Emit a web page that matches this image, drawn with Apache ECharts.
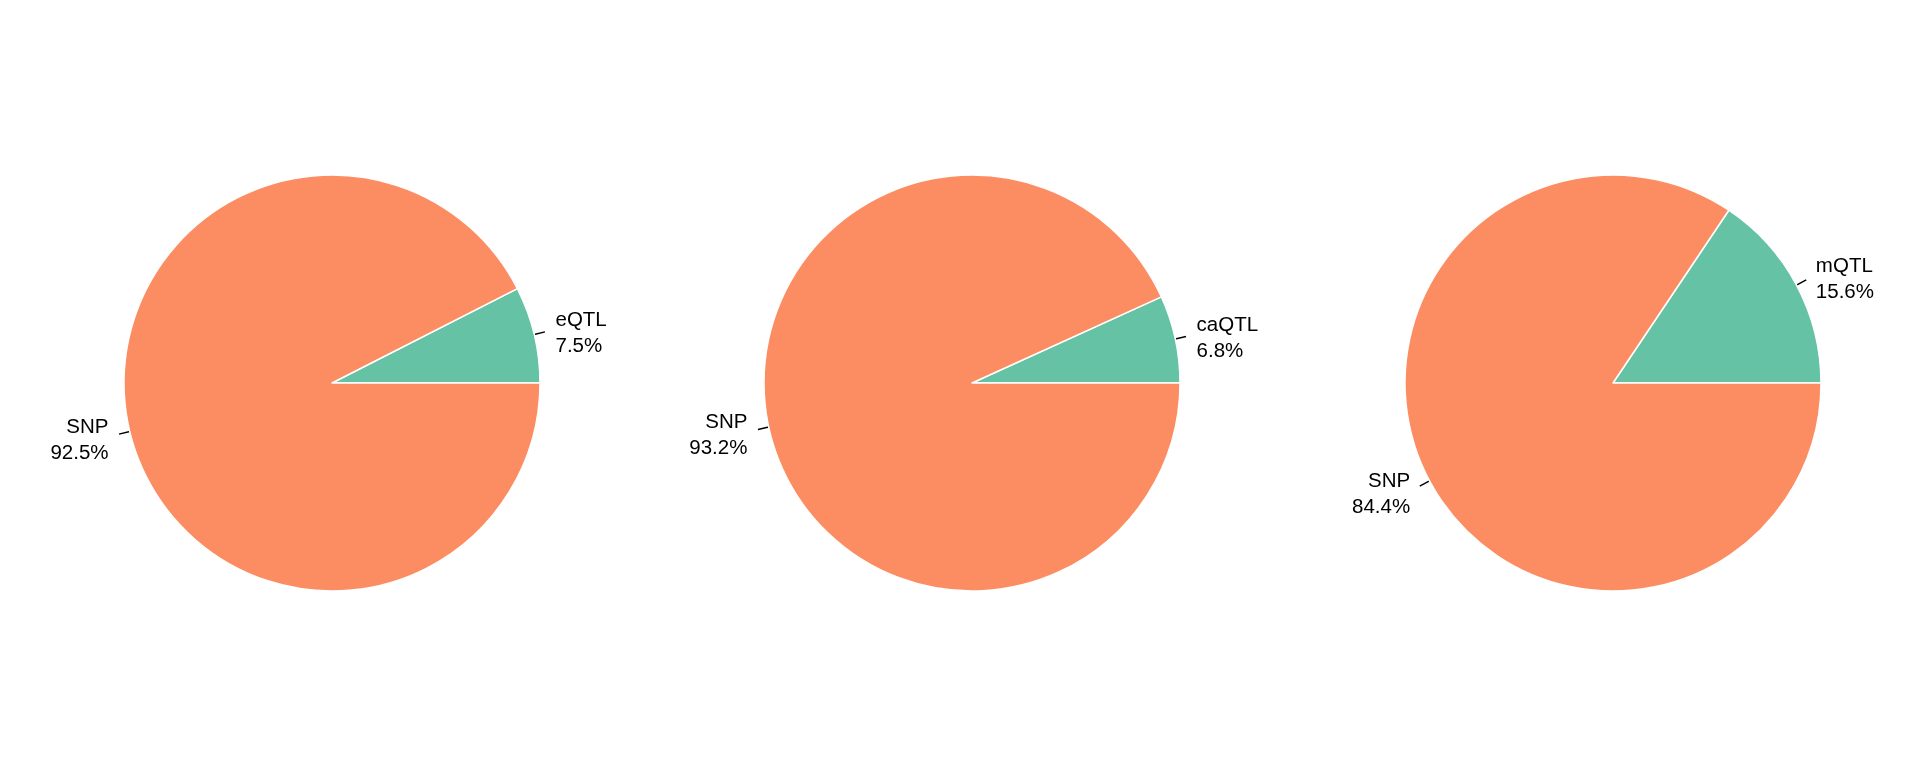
<!DOCTYPE html>
<html>
<head>
<meta charset="utf-8">
<script src="https://cdn.jsdelivr.net/npm/echarts@6/dist/echarts.min.js"></script>
<style>html,body{margin:0;padding:0;background:#fff}#c{width:1920px;height:768px}</style>
</head>
<body>
<div id="c"></div>
<script>
const pie1Labels = ['eQTL', 'SNP'];
const pie1Values = [7.5, 92.5];
const pie2Labels = ['caQTL', 'SNP'];
const pie2Values = [6.8, 93.2];
const pie3Labels = ['mQTL', 'SNP'];
const pie3Values = [15.6, 84.4];
const colors = ['#66c2a5', '#fc8d62'];

const centers = [[332, 383], [972, 383], [1613, 383]];
const R = 208;
const LINE_LEN = 11;       // label line from r to ~1.055r
const TEXT_R = 1.1 * R;    // text anchored at 1.1r along the radius
const TEXT_DY = 4;         // small vertical nudge of text block

function makeSeries(labels, values, center) {
  const total = values.reduce((a, b) => a + b, 0);
  let cum = 0;
  const data = labels.map((n, i) => {
    const mid = (cum + values[i] / 2) / total * 2 * Math.PI;
    cum += values[i];
    const extra = TEXT_R - (R + LINE_LEN);
    return {
      name: n,
      value: values[i],
      itemStyle: { color: colors[i] },
      label: { offset: [Math.cos(mid) * extra + (Math.cos(mid) < 0 ? -1 : 1), -Math.sin(mid) * extra + TEXT_DY] }
    };
  });
  return {
    type: 'pie',
    center: center,
    radius: [0, R],
    startAngle: 0,
    clockwise: false,
    avoidLabelOverlap: false,
    silent: true,
    itemStyle: { borderColor: '#ffffff', borderWidth: 1.5 },
    label: {
      show: true,
      position: 'outside',
      formatter: p => p.name + '\n' + p.value.toFixed(1) + '%',
      fontFamily: 'Liberation Sans, Arial, sans-serif',
      fontSize: 20.5,
      lineHeight: 26,
      color: '#000',
      distanceToLabelLine: 0
    },
    labelLine: {
      show: true,
      length: LINE_LEN,
      length2: 0,
      smooth: false,
      lineStyle: { color: '#000', width: 1.5 }
    },
    data: data
  };
}

const chart = echarts.init(document.getElementById('c'), null, { renderer: 'canvas' });
chart.setOption({
  animation: false,
  backgroundColor: '#ffffff',
  series: [
    makeSeries(pie1Labels, pie1Values, centers[0]),
    makeSeries(pie2Labels, pie2Values, centers[1]),
    makeSeries(pie3Labels, pie3Values, centers[2])
  ]
});
</script>
</body>
</html>
